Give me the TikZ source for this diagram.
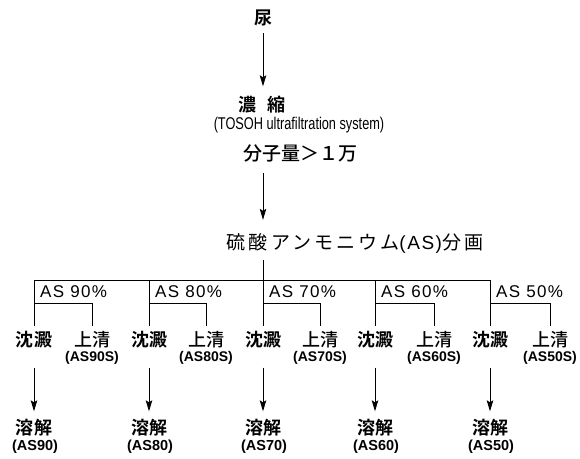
\documentclass[tikz,border=0pt]{standalone}
\usepackage{fontspec}
\usepackage{graphicx}
\usetikzlibrary{arrows.meta}
\setmainfont{Liberation Sans}
\newfontfamily\jpb{Noto Sans CJK JP Bold}
\newfontfamily\jpm{Noto Sans CJK JP Medium}
\newfontfamily\jpsp{Noto Sans CJK JP}[LetterSpace=16]
\newfontfamily\lat{Liberation Sans}
\newfontfamily\latsp{Liberation Sans}[LetterSpace=8]
\tikzset{
  ln/.style={line width=0.9pt, black},
  arr/.style={ln, -{Stealth[length=11pt,width=6.5pt,inset=2pt]}},
  jpbold/.style={inner sep=0pt, font=\jpb\fontsize{18}{18}\selectfont},
  jpmed/.style={inner sep=0pt, font=\jpm\fontsize{18}{18}\selectfont},
  jpbig/.style={inner sep=0pt, font=\jpm\fontsize{19}{19}\selectfont},
  head/.style={inner sep=0pt, font=\jpsp\fontsize{19}{19}\selectfont},
  tosoh/.style={inner sep=0pt, font=\lat\fontsize{17}{17}\selectfont},
  aslab/.style={inner sep=0pt, anchor=west, font=\latsp\fontsize{17}{17}\selectfont},
  slab/.style={inner sep=0pt, font=\lat\bfseries\fontsize{14}{14}\selectfont},
  dlab/.style={inner sep=0pt, font=\lat\bfseries\fontsize{14.5}{14.5}\selectfont},
}
\begin{document}
\begin{tikzpicture}[x=1pt,y=-1pt]
\useasboundingbox (0,0) rectangle (580,458);
\node[jpbold] (urine) at (263,18) {尿};
\node[jpbold] (conc) at (262,105) {濃\hspace{11pt}縮};
\node[tosoh] (tosoh) at (299,125) {\scalebox{0.75}[1]{(TOSOH ultrafiltration system)}};
\node[jpbig] (mw) at (300,153) {分子量＞１万};
\node[head] (frac) at (355,243) {硫酸アンモニウム{\latsp(AS)}分画};
\draw[arr, shorten <=7pt, shorten >=10pt] (urine.south) -- (urine.south |- conc.north);
\draw[arr, shorten <=11pt, shorten >=13pt] (mw.south -| urine) -- (frac.north -| urine);
\foreach \i/\l/\r/\p in {1/34/92/90, 2/149/206/80, 3/263/320/70, 4/375/434/60, 5/490/550/50} {
  \node[jpbold] (p\i) at (\l,340) {沈澱};
  \node[jpmed] (s\i) at (\r,340) {上清};
  \node[slab] (sl\i) at (\r,358) {(AS\p S)};
  \node[jpbold] (d\i) at (\l,428) {溶解};
  \node[dlab] (dl\i) at (\l+1,447) {(AS\p)};
  \node[aslab] (a\i) at (\l+6,292) {AS \p\%};
  \coordinate (t\i) at (\l,280);
  \coordinate (m\i) at (\l,303);
  \draw[ln, shorten >=5pt] (t\i) -- (p\i.north);
  \draw[ln, shorten >=5pt] (m\i) -| (s\i.north);
  \draw[arr, shorten <=19pt, shorten >=8pt] (p\i.south) -- (d\i.north);
}
\draw[ln] (t1) -- (t5);
\draw[ln, shorten <=7pt] (frac.south -| t3) -- (t3);
\end{tikzpicture}
\end{document}
